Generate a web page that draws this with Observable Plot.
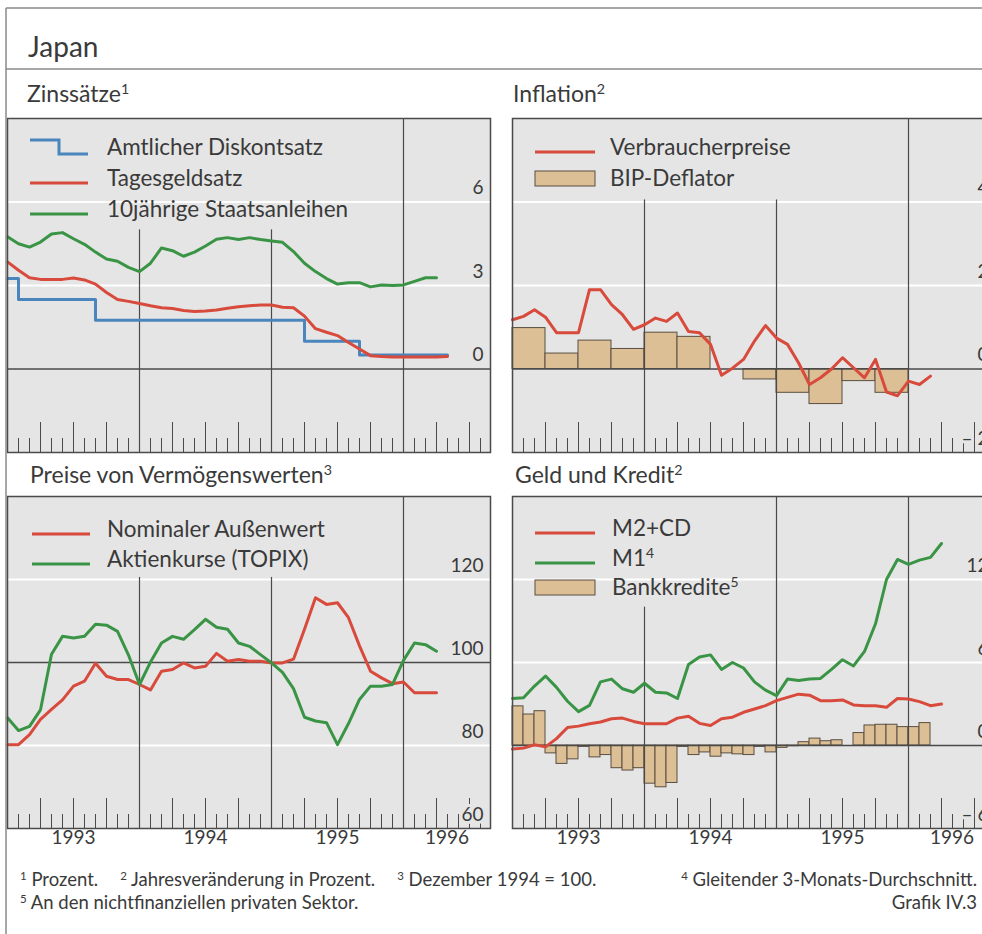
<!DOCTYPE html>
<html><head><meta charset="utf-8">
<script src="https://cdn.jsdelivr.net/npm/d3@7"></script>
<script src="https://cdn.jsdelivr.net/npm/@observablehq/plot@0.6"></script>
<style>
html,body{margin:0;padding:0;background:#fff;overflow:hidden;width:982px;height:934px;}
#root{position:relative;width:982px;height:934px;overflow:hidden;font-family:Lato, "Open Sans", sans-serif;}
.pw{position:absolute;}
.pw svg{overflow:visible;max-width:none;}
#overlay{position:absolute;left:0;top:0;pointer-events:none;}
</style></head><body><div id="root"></div>
<script>
// ---------- DATA (monthly from Jan 1993, quarterly from Q1 1993) ----------
const START = 1993;
// Zinssätze (%)
const discountRate = [3.25,2.5,2.5,2.5,2.5,2.5,2.5,2.5,1.75,1.75,1.75,1.75,1.75,1.75,1.75,1.75,1.75,1.75,1.75,1.75,1.75,1.75,1.75,1.75,1.75,1.75,1.75,1.0,1.0,1.0,1.0,1.0,0.5,0.5,0.5,0.5,0.5,0.5,0.5,0.5,0.5];
const callRate = [3.85,3.55,3.28,3.22,3.22,3.22,3.27,3.2,3.05,2.75,2.5,2.43,2.35,2.27,2.2,2.17,2.1,2.07,2.08,2.12,2.18,2.24,2.27,2.3,2.3,2.22,2.2,1.9,1.45,1.32,1.2,0.95,0.72,0.48,0.45,0.43,0.43,0.43,0.43,0.43,0.45];
const bond10y = [4.75,4.5,4.38,4.56,4.85,4.9,4.68,4.48,4.2,3.95,3.87,3.65,3.5,3.8,4.35,4.25,4.05,4.2,4.42,4.66,4.72,4.65,4.72,4.65,4.6,4.55,4.22,3.8,3.5,3.25,3.05,3.1,3.1,2.95,3.02,3.0,3.02,3.15,3.28,3.28];
// Inflation (% yoy)
const cpi = [1.18,1.26,1.42,1.24,0.87,0.87,0.87,1.9,1.9,1.54,1.3,0.95,1.06,1.22,1.14,1.34,0.9,0.87,0.59,-0.15,0.02,0.23,0.67,1.04,0.74,0.59,0.15,-0.37,-0.21,0.0,0.27,0.03,-0.21,0.23,-0.55,-0.64,-0.29,-0.37,-0.17];
const gdpDeflator = [0.98,0.37,0.68,0.48,0.87,0.77,0.0,-0.25,-0.57,-0.84,-0.29,-0.57];
// Asset prices (Dec 1994 = 100)
const exchangeRate = [80.2,80.2,82.6,86.3,88.7,91.0,94.3,95.5,99.8,96.7,95.9,95.9,94.7,93.4,97.9,98.3,99.9,98.7,99.1,102.2,100.3,100.7,100.3,100.3,99.9,99.9,100.8,108,115.6,114,114.4,110.8,104,97.9,96.3,94.9,95.3,92.7,92.7,92.7];
const topix = [86.7,83.6,84.6,88.6,102,106.3,105.9,106.3,109.2,109,107.5,101.8,94.7,100.1,104.7,106.3,105.6,107.9,110.4,108.5,108,104.7,103.9,101.9,99.9,97.6,93.7,86.8,85.9,85.5,80.2,85.3,91.1,94.3,94.3,94.7,100.5,104.7,104.3,102.7];
// Money and credit (% yoy)
const m2cd = [-0.26,-0.19,0.05,-0.1,0.5,1.3,1.4,1.57,1.7,1.93,1.98,1.74,1.57,1.57,1.57,1.98,2.12,1.6,1.45,1.93,2.05,2.4,2.64,2.88,3.24,3.48,3.71,3.64,3.24,3.24,3.29,2.93,2.88,2.88,2.76,3.4,3.36,3.17,2.88,3.0];
const m1 = [3.4,3.45,4.3,5.02,4.2,3.2,2.45,2.9,4.6,4.8,4.1,3.85,4.5,3.85,3.8,3.4,5.85,6.4,6.55,5.5,6.0,5.6,4.6,4.0,3.6,4.8,4.7,4.8,4.85,5.5,6.2,5.75,6.8,8.8,12.0,13.45,13.1,13.4,13.6,14.6];
const bankCredit = [2.83,2.24,2.48,-0.57,-1.33,-1.0,-0.1,-0.86,-0.69,-1.64,-1.81,-1.64,-2.76,-3.02,-2.71,-0.1,-0.69,-0.5,-0.81,-0.57,-0.64,-0.69,-0.1,-0.5,-0.17,-0.05,0.24,0.5,0.31,0.38,0.0,0.9,1.45,1.5,1.5,1.33,1.33,1.62];
// axis labels
const yearLabels = ["1993","1994","1995","1996"];
const yearLabelPos = [1993.5,1994.5,1995.5,1996.33];
const yearLines = [1994,1995,1996];

// ---------- STYLE ----------
const BG = "#e5e5e5", DARK = "#4a4a4a", TEXT = "#3a3a3a";
const RED = "#d84a3c", GREEN = "#3a9445", BLUE = "#4a86bd", TAN = "#dcbf94", TANSTROKE = "#5a4e42";
const W = 483;
const X1 = START + W / 132;

const monthly = arr => arr.map((v, i) => ({x: START + i / 12, y: v}));
const monthlyBars = arr => arr.map((v, i) => ({x1: START + i / 12, x2: START + (i + 1) / 12, y: v}));
const quarterlyBars = arr => arr.map((v, i) => ({x1: START + i / 4, x2: START + (i + 1) / 4, y: v}));

const allTicks = d3.range(1, 48).filter(i => START + i / 12 < X1 - 1e-6);
const minorTicks = allTicks.filter(i => i % 3 !== 0).map(i => START + i / 12);
const majorTicks = allTicks.filter(i => i % 3 === 0 && i % 12 !== 0).map(i => START + i / 12);

const fmt = v => v < 0 ? "\u2013 " + Math.abs(v) : String(v);

function panel(cfg) {
  const {yDomain, height, grid, zero, labels, lineTops, lines, bars, years} = cfg;
  const y0 = yDomain[0];
  const k = (yDomain[1] - yDomain[0]) / height;
  const marks = [
    Plot.frame({fill: BG, stroke: null}),
    Plot.ruleY(grid, {stroke: "white", strokeWidth: 2}),
  ];
  if (bars) marks.push(Plot.rectY(bars, {x1: "x1", x2: "x2", y: "y", fill: TAN, stroke: TANSTROKE, strokeWidth: 1}));
  marks.push(
    Plot.ruleY([zero], {stroke: DARK, strokeWidth: 1.3}),
    Plot.ruleX(yearLines.map((x, i) => ({x, top: lineTops[i]})), {x: "x", y1: y0, y2: "top", stroke: DARK, strokeWidth: 1.2}),
    Plot.ruleX(minorTicks, {x: d => d, y1: y0, y2: y0 + 14 * k, stroke: DARK, strokeWidth: 1}),
    Plot.ruleX(majorTicks, {x: d => d, y1: y0, y2: y0 + 30 * k, stroke: DARK, strokeWidth: 1})
  );
  for (const l of lines) {
    marks.push(Plot.line(l.data, {x: "x", y: "y", stroke: l.color, strokeWidth: 3, curve: l.curve || "linear", strokeLinejoin: "round"}));
  }
  marks.push(
    Plot.text(labels, {y: d => d, text: fmt, frameAnchor: "right", textAnchor: "end", dx: -7, dy: -14, fontSize: 19, fill: TEXT, stroke: BG, strokeWidth: 6}),
    Plot.frame({stroke: DARK, strokeWidth: 1.5})
  );
  if (years) {
    marks.push(Plot.text(yearLabels.map((t, i) => ({t, x: yearLabelPos[i]})), {x: "x", text: "t", frameAnchor: "bottom", dy: 15, fontSize: 19, fill: TEXT}));
  }
  return Plot.plot({
    width: W, height: height + (years ? 30 : 0),
    marginLeft: 0, marginRight: 0, marginTop: 0, marginBottom: years ? 30 : 0,
    x: {domain: [START, X1], axis: null},
    y: {domain: yDomain, axis: null},
    style: {background: "transparent", fontFamily: "Lato, sans-serif", overflow: "visible"},
    marks
  });
}

const root = document.getElementById("root");
function place(el, left, top) {
  const d = document.createElement("div");
  d.className = "pw"; d.style.left = left + "px"; d.style.top = top + "px"; d.style.width = W + "px";
  d.appendChild(el); root.appendChild(d);
}

place(panel({
  yDomain: [-3, 9], height: 334, grid: [6, 3], zero: 0, labels: [6, 3, 0], lineTops: [5, 5, 9],
  lines: [
    {data: monthly(discountRate), color: BLUE, curve: "step-after"},
    {data: monthly(callRate), color: RED},
    {data: monthly(bond10y), color: GREEN}
  ]
}), 7, 118);

place(panel({
  yDomain: [-2, 6], height: 334, grid: [4, 2], zero: 0, labels: [4, 2, 0, -2], lineTops: [4.05, 4.05, 6],
  bars: quarterlyBars(gdpDeflator),
  lines: [{data: monthly(cpi), color: RED}]
}), 512, 118);

place(panel({
  yDomain: [60, 140], height: 332, grid: [120, 80], zero: 100, labels: [120, 100, 80, 60], lineTops: [120.5, 120.5, 140],
  lines: [
    {data: monthly(exchangeRate), color: RED},
    {data: monthly(topix), color: GREEN}
  ], years: true
}), 7, 496);

place(panel({
  yDomain: [-6, 18], height: 332, grid: [12, 6], zero: 0, labels: [12, 6, 0, -6], lineTops: [10, 18, 18],
  bars: monthlyBars(bankCredit),
  lines: [
    {data: monthly(m2cd), color: RED},
    {data: monthly(m1), color: GREEN}
  ], years: true
}), 512, 496);

// ---------- OVERLAY: frame, titles, legends, footnotes ----------
const ov = d3.select(root).append("svg").attr("id", "overlay").attr("width", 982).attr("height", 934)
  .style("font-family", "Lato, sans-serif");
ov.append("path").attr("d", "M6,8H982M6,69H982M6,8V934").attr("stroke", "#8a8a8a").attr("stroke-width", 1.5).attr("fill", "none");

function addText(x, y, parts, size, anchor = "start") {
  const t = ov.append("text").attr("x", x).attr("y", y).attr("font-size", size).attr("text-anchor", anchor).attr("fill", TEXT);
  for (const p of parts) {
    if (typeof p === "string") t.append("tspan").text(p);
    else t.append("tspan").attr("baseline-shift", "super").attr("font-size", size * 0.62).text(p.sup);
  }
  return t;
}
addText(28, 57, ["Japan"], 28);
addText(27, 102, ["Zinssätze", {sup: "1"}], 23);
addText(513, 102, ["Inflation", {sup: "2"}], 23);
addText(30, 483, ["Preise von Vermögenswerten", {sup: "3"}], 23);
addText(515, 483, ["Geld und Kredit", {sup: "2"}], 23);

function legend(ox, oy, items, symX0, symX1, textX) {
  items.forEach(it => {
    const b = oy + it.base;
    if (it.type === "line") {
      ov.append("line").attr("x1", ox + symX0).attr("x2", ox + symX1).attr("y1", b - 3).attr("y2", b - 3)
        .attr("stroke", it.color).attr("stroke-width", 3);
    } else if (it.type === "step") {
      const xm = ox + (symX0 + symX1) / 2;
      ov.append("path").attr("d", `M${ox + symX0},${b - 15}H${xm}V${b - 1}H${ox + symX1}`)
        .attr("stroke", it.color).attr("stroke-width", 3).attr("fill", "none");
    } else {
      ov.append("rect").attr("x", ox + symX0).attr("y", b - 15).attr("width", symX1 - symX0).attr("height", 15)
        .attr("fill", TAN).attr("stroke", TANSTROKE).attr("stroke-width", 1);
    }
    addText(ox + textX, b, it.label, 22.5);
  });
}
legend(7, 118, [
  {type: "step", color: BLUE, base: 37, label: ["Amtlicher Diskontsatz"]},
  {type: "line", color: RED, base: 68, label: ["Tagesgeldsatz"]},
  {type: "line", color: GREEN, base: 99, label: ["10jährige Staatsanleihen"]}
], 23, 81, 100);
legend(512, 118, [
  {type: "line", color: RED, base: 37, label: ["Verbraucherpreise"]},
  {type: "bar", base: 68, label: ["BIP-Deflator"]}
], 23, 83, 98);
legend(7, 496, [
  {type: "line", color: RED, base: 41, label: ["Nominaler Außenwert"]},
  {type: "line", color: GREEN, base: 71, label: ["Aktienkurse (TOPIX)"]}
], 25, 83, 100);
legend(512, 496, [
  {type: "line", color: RED, base: 40, label: ["M2+CD"]},
  {type: "line", color: GREEN, base: 70, label: ["M1", {sup: "4"}]},
  {type: "bar", base: 99, label: ["Bankkredite", {sup: "5"}]}
], 23, 83, 100);

// footnotes: first three flow from the left with equal gaps, the fourth is right-aligned
const FN = 18.5;
let fx = 20;
[[{sup: "1"}, " Prozent."], [{sup: "2"}, " Jahresveränderung in Prozent."], [{sup: "3"}, " Dezember 1994 = 100."]].forEach(parts => {
  const t = addText(fx, 886, parts, FN);
  fx += t.node().getComputedTextLength() + 22;
});
addText(977, 886, [{sup: "4"}, " Gleitender 3-Monats-Durchschnitt."], FN, "end");
addText(20, 909, [{sup: "5"}, " An den nichtfinanziellen privaten Sektor."], FN);
addText(977, 909, ["Grafik IV.3"], FN, "end");
</script></body></html>
